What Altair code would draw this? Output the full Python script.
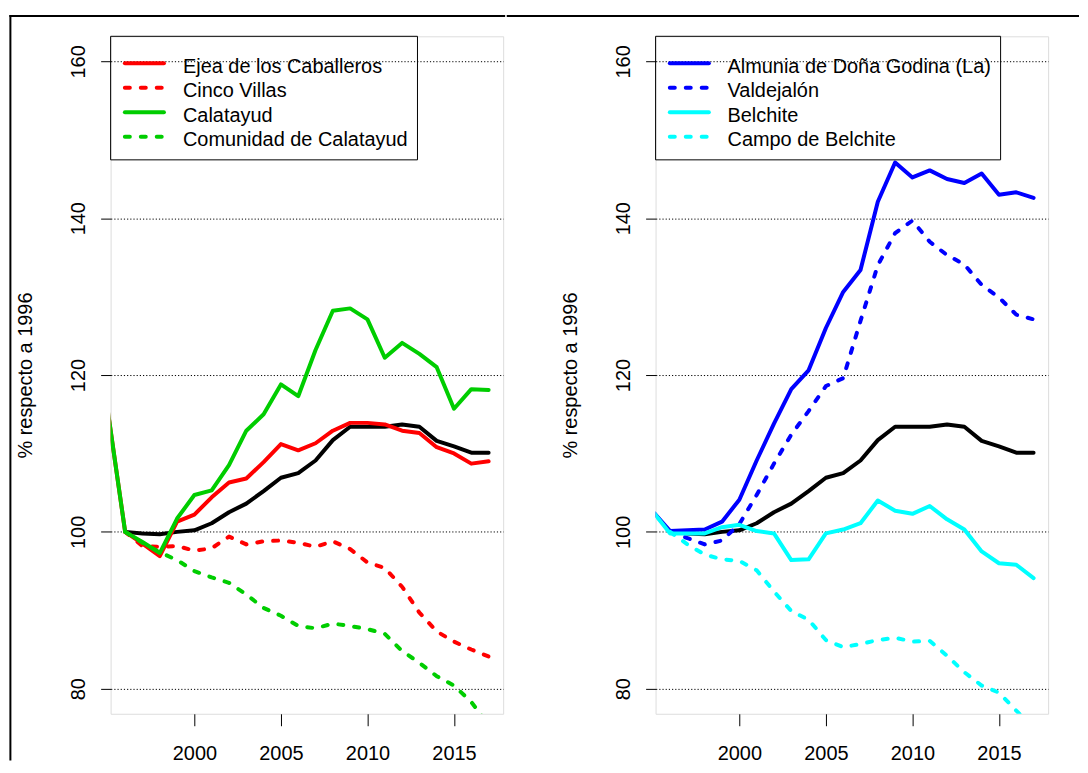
import altair as alt
import pandas as pd

years = list(range(1995, 2018))

# Aragón (black reference line), 1995..2017 (no 1995 value)
aragon = [None, 100.0, 99.8, 99.7, 100.0, 100.2, 101.1, 102.5, 103.6, 105.2, 106.9, 107.5,
          109.1, 111.7, 113.4, 113.4, 113.4, 113.7, 113.4, 111.6, 110.9, 110.1, 110.1]

# Left panel
ejea = [115.4, 100.0, 98.5, 96.9, 101.3, 102.2, 104.4, 106.3, 106.8, 108.9, 111.2, 110.4,
        111.3, 112.9, 113.9, 113.9, 113.7, 112.9, 112.6, 110.8, 110.0, 108.7, 109.0]
cinco_villas = [None, 100.0, 98.2, 98.1, 98.2, 97.6, 97.9, 99.4, 98.4, 98.8, 98.9, 98.6,
                98.1, 98.8, 97.8, 96.1, 95.4, 93.0, 89.7, 87.3, 86.0, 85.0, 84.1]
calatayud = [115.4, 100.0, 98.7, 97.3, 101.7, 104.7, 105.3, 108.5, 112.9, 115.0, 118.8, 117.3,
             123.2, 128.2, 128.5, 127.1, 122.2, 124.1, 122.7, 121.0, 115.7, 118.2, 118.1]
com_calatayud = [None, 100.0, 98.6, 97.4, 96.4, 95.0, 94.2, 93.5, 92.0, 90.3, 89.3, 88.0,
                 87.7, 88.3, 88.0, 87.6, 87.0, 84.8, 83.3, 81.6, 80.4, 78.3, 75.4]

# Right panel
almunia = [102.6, 100.1, 100.2, 100.3, 101.3, 104.1, 109.1, 113.8, 118.2, 120.6, 126.0, 130.6,
           133.4, 142.1, 147.1, 145.2, 146.1, 145.0, 144.5, 145.7, 143.0, 143.3, 142.6]
valdejalon = [None, 100.0, 99.2, 98.4, 98.9, 101.0, 104.7, 108.7, 112.4, 115.4, 118.6, 119.6,
              126.9, 134.0, 138.1, 139.7, 137.0, 135.3, 134.1, 131.5, 129.9, 127.7, 127.1]
belchite = [102.6, 99.8, 99.8, 99.8, 100.6, 100.9, 100.1, 99.8, 96.4, 96.5, 99.8, 100.3,
            101.1, 104.0, 102.7, 102.3, 103.3, 101.6, 100.3, 97.5, 96.0, 95.8, 94.1]
campo_belchite = [None, 100.0, 98.4, 97.1, 96.5, 96.3, 95.1, 92.4, 89.9, 88.8, 86.2, 85.3,
                  85.7, 86.2, 86.5, 86.0, 86.1, 84.2, 82.1, 80.4, 79.5, 77.2, 75.0]

left_names = ["Ejea de los Caballeros", "Cinco Villas", "Calatayud", "Comunidad de Calatayud"]
right_names = ["Almunia de Doña Godina (La)", "Valdejalón", "Belchite", "Campo de Belchite"]
y_ticks = [80, 100, 120, 140, 160]
x_ticks = [2000, 2005, 2010, 2015]
y_title = "% respecto a 1996"

RED, GREEN, BLUE, CYAN = "#FF0000", "#00CD00", "#0000FF", "#00FFFF"
DASH = [5, 11]
FONT = "Liberation Sans"
FS = 20
W, H = 394, 680
LW = 4

xscale = alt.Scale(domain=[1995.16, 2017.84], nice=False, zero=False)
yscale = alt.Scale(domain=[76.8, 163.2], nice=False, zero=False)

xaxis = alt.Axis(values=x_ticks, format="d", tickSize=12, tickColor="black", tickWidth=1,
                 domain=False, grid=False, labelFontSize=FS, labelFont=FONT,
                 labelColor="black", labelPadding=34, labelBaseline="alphabetic",
                 title=None)
yaxis = alt.Axis(values=y_ticks, tickSize=10, tickColor="black", tickWidth=1,
                 domain=False, grid=True, gridDash=[1.2, 2], gridColor="black",
                 gridWidth=1, labelFontSize=FS, labelFont=FONT, labelColor="black",
                 labelAngle=270, labelAlign="center", labelBaseline="alphabetic",
                 labelPadding=16.3, title=y_title, titleFont=FONT, titleFontSize=FS,
                 titleFontWeight="normal", titleColor="black", titleAngle=270,
                 titleAlign="center", titleBaseline="alphabetic", titleX=-79, titleY=340)


def series_layer(values, color, dashed):
    df = pd.DataFrame({"year": years, "value": values}).dropna()
    kw = dict(color=color, strokeWidth=LW, clip=True, strokeCap="round", strokeJoin="round")
    if dashed:
        kw["strokeDash"] = DASH
    return alt.Chart(df).mark_line(**kw).encode(
        x=alt.X("year:Q", scale=xscale, axis=xaxis),
        y=alt.Y("value:Q", scale=yscale, axis=yaxis),
    )


def legend_layers(names, colors, dashes, box_w, text_x):
    layers = []
    box = alt.Chart(pd.DataFrame({"k": [0]})).mark_rect(
        fill="transparent", stroke="black", strokeWidth=1
    ).encode(x=alt.value(0), x2=alt.value(box_w), y=alt.value(0), y2=alt.value(124))
    layers.append(box)
    for i, (nm, c, d) in enumerate(zip(names, colors, dashes)):
        ry = 27 + 24.6 * i
        kw = dict(color=c, strokeWidth=LW, strokeCap="round")
        if d:
            kw["strokeDash"] = DASH
        rule = alt.Chart(pd.DataFrame({"k": [i]})).mark_rule(**kw).encode(
            x=alt.value(14.3), x2=alt.value(53.5), y=alt.value(ry))
        txt = alt.Chart(pd.DataFrame({"label": [nm]})).mark_text(
            align="left", baseline="alphabetic", font=FONT, fontSize=FS, color="black"
        ).encode(x=alt.value(text_x), y=alt.value(ry + 9.4), text="label:N")
        layers += [rule, txt]
    return layers


def frame_bar(x, x2, y, y2):
    # outer figure frame drawn as thin filled bars (no stroke -> exact bounds)
    return alt.Chart(pd.DataFrame({"k": [0]})).mark_rect(
        fill="black", strokeWidth=0).encode(
        x=alt.value(x), x2=alt.value(x2), y=alt.value(y), y2=alt.value(y2))


TOP = -21.3
left_layers = [
    series_layer(aragon, "black", False),
    series_layer(ejea, RED, False),
    series_layer(cinco_villas, RED, True),
    series_layer(calatayud, GREEN, False),
    series_layer(com_calatayud, GREEN, True),
] + legend_layers(left_names, [RED, RED, GREEN, GREEN], [False, True, False, True], 308, 72.6) + [
    frame_bar(-101.6, 396, TOP, TOP + 2),
    frame_bar(-101.6, -99.6, TOP, 727),
]

right_layers = [
    series_layer(aragon, "black", False),
    series_layer(almunia, BLUE, False),
    series_layer(valdejalon, BLUE, True),
    series_layer(belchite, CYAN, False),
    series_layer(campo_belchite, CYAN, True),
] + legend_layers(right_names, [BLUE, BLUE, CYAN, CYAN], [False, True, False, True], 346.3, 72.2) + [
    frame_bar(-149.4, 425, TOP, TOP + 2),
]

left = alt.layer(*left_layers).properties(width=W, height=H)
right = alt.layer(*right_layers).properties(width=W, height=H)

chart = alt.hconcat(left, right, spacing=0).properties(
    padding={"left": 0, "top": 5, "right": 0, "bottom": -2}
).configure_view(stroke="black", strokeWidth=1.5).configure(font=FONT)

chart.save("out.html", embed_options={"renderer": "svg", "actions": False})
